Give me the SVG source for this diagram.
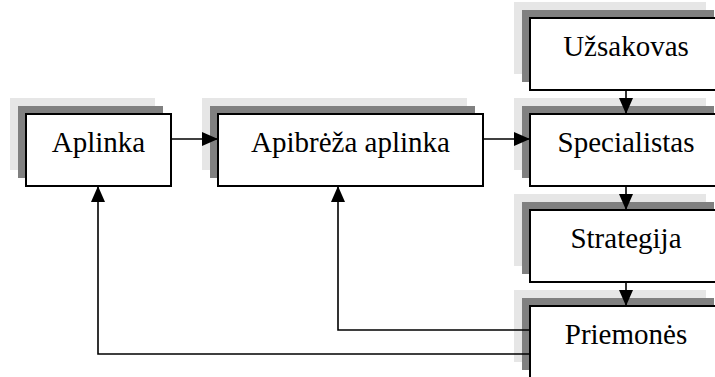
<svg xmlns="http://www.w3.org/2000/svg" width="715" height="377" viewBox="0 0 715 377">
  <style>
    .sh1 { fill: #e6e6e6; }
    .sh2 { fill: #808080; }
    .box { fill: #ffffff; stroke: #000000; stroke-width: 2; }
    .lbl { font-family: "Liberation Serif", "Times New Roman", serif; font-size: 29px; fill: #000000; text-anchor: middle; }
    .conn { fill: none; stroke: #000000; stroke-width: 1.6; }
  </style>
  <defs>
    <marker id="arrow" markerUnits="userSpaceOnUse" markerWidth="16" markerHeight="14" refX="16" refY="7" orient="auto">
      <path d="M0,0 L16,7 L0,14 z" fill="#000000"/>
    </marker>
  </defs>

  <rect width="715" height="377" fill="#ffffff"/>

  <!-- Left row -->
  <g id="aplinka">
    <rect class="sh1" x="10" y="98" width="145" height="72"/>
    <rect class="sh2" x="18" y="106" width="145" height="72"/>
    <rect class="box" x="26" y="114" width="145" height="72"/>
    <text class="lbl" x="98.5" y="152">Aplinka</text>
  </g>

  <g id="apibreza-aplinka">
    <rect class="sh1" x="202" y="98" width="265" height="72"/>
    <rect class="sh2" x="210" y="106" width="265" height="72"/>
    <rect class="box" x="218" y="114" width="265" height="72"/>
    <text class="lbl" x="350.5" y="152">Apibrėža aplinka</text>
  </g>

  <!-- Right column -->
  <g id="uzsakovas">
    <rect class="sh1" x="514" y="2" width="192" height="72"/>
    <rect class="sh2" x="522" y="10" width="192" height="72"/>
    <rect class="box" x="530" y="18" width="192" height="72"/>
    <text class="lbl" x="626" y="56">Užsakovas</text>
  </g>

  <g id="specialistas">
    <rect class="sh1" x="514" y="98" width="192" height="72"/>
    <rect class="sh2" x="522" y="106" width="192" height="72"/>
    <rect class="box" x="530" y="114" width="192" height="72"/>
    <text class="lbl" x="626" y="152">Specialistas</text>
  </g>

  <g id="strategija">
    <rect class="sh1" x="514" y="194" width="192" height="72"/>
    <rect class="sh2" x="522" y="202" width="192" height="72"/>
    <rect class="box" x="530" y="210" width="192" height="72"/>
    <text class="lbl" x="626" y="248">Strategija</text>
  </g>

  <g id="priemones">
    <rect class="sh1" x="514" y="290" width="192" height="72"/>
    <rect class="sh2" x="522" y="298" width="192" height="72"/>
    <rect class="box" x="530" y="306" width="192" height="72"/>
    <text class="lbl" x="626" y="344">Priemonės</text>
  </g>

  <!-- Connectors -->
  <g id="connectors">
    <line class="conn" x1="171" y1="139" x2="218" y2="139" marker-end="url(#arrow)"/>
    <line class="conn" x1="483" y1="139" x2="530" y2="139" marker-end="url(#arrow)"/>
    <line class="conn" x1="626" y1="90" x2="626" y2="114" marker-end="url(#arrow)"/>
    <line class="conn" x1="626" y1="186" x2="626" y2="210" marker-end="url(#arrow)"/>
    <line class="conn" x1="626" y1="282" x2="626" y2="306" marker-end="url(#arrow)"/>
    <polyline class="conn" points="530,330 338,330 338,186" marker-end="url(#arrow)"/>
    <polyline class="conn" points="530,354 98,354 98,186" marker-end="url(#arrow)"/>
  </g>
</svg>
